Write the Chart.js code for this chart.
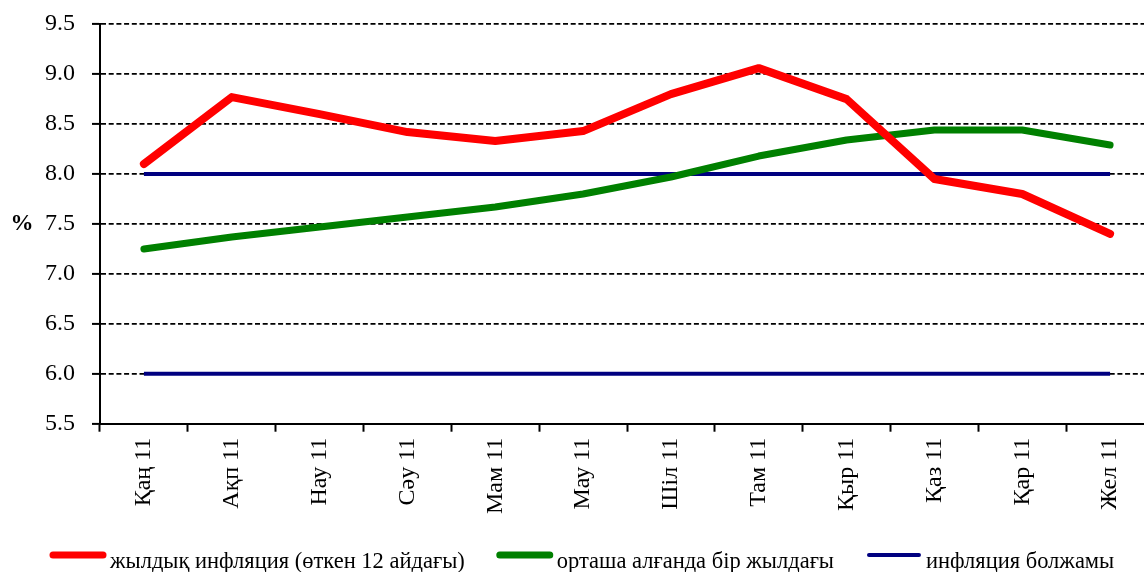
<!DOCTYPE html>
<html>
<head>
<meta charset="utf-8">
<script src="https://cdn.jsdelivr.net/npm/chart.js@4/dist/chart.umd.min.js"></script>
<style>
html,body{margin:0;padding:0;background:#fff;overflow:hidden;}
#wrap{width:1144px;height:572px;position:relative;overflow:hidden;}
</style>
</head>
<body>
<div id="wrap"><canvas id="c" width="1154" height="572"></canvas></div>
<script>
const categories = ["Қаң 11","Ақп 11","Нау 11","Сәу 11","Мам 11","Мау 11","Шіл 11","Там 11","Қыр 11","Қаз 11","Қар 11","Жел 11"];
const annualInflation = [8.1, 8.77, 8.6, 8.42, 8.33, 8.43, 8.8, 9.06, 8.75, 7.95, 7.8, 7.4];
const averageAnnual = [7.25, 7.37, 7.47, 7.57, 7.67, 7.8, 7.97, 8.18, 8.34, 8.44, 8.44, 8.29];
const forecastUpper = [8, 8, 8, 8, 8, 8, 8, 8, 8, 8, 8, 8];
const forecastLower = [6, 6, 6, 6, 6, 6, 6, 6, 6, 6, 6, 6];
const seriesNames = ["жылдық инфляция (өткен 12 айдағы)", "орташа алғанда бір жылдағы", "инфляция болжамы"];
const yTitle = "%";

const FONT = "'Liberation Serif', 'Times New Roman', serif";

const pctPlugin = {
  id: 'pct',
  afterDraw(chart) {
    const ctx = chart.ctx;
    const a = chart.chartArea;
    ctx.save();
    ctx.font = "bold 23px " + FONT;
    ctx.fillStyle = "#000";
    ctx.textAlign = "center";
    ctx.textBaseline = "middle";
    ctx.fillText(yTitle, 22, (a.top + a.bottom) / 2);
    ctx.restore();
  }
};

const legendPlugin = {
  id: 'customLegend',
  afterDraw(chart) {
    const ctx = chart.ctx;
    ctx.save();
    ctx.font = "22.5px " + FONT;
    ctx.textBaseline = "alphabetic";
    ctx.textAlign = "left";
    let x = 50;
    const boxW = 56, lineY = 555, textY = 568;
    chart.data.datasets.forEach((ds) => {
      if (ds.label === '_lower') return;
      ctx.strokeStyle = ds.borderColor;
      ctx.lineWidth = ds.borderWidth >= 6 ? 7 : 4;
      ctx.lineCap = 'round';
      ctx.beginPath();
      ctx.moveTo(x + 3, lineY);
      ctx.lineTo(x + boxW - 3, lineY);
      ctx.stroke();
      ctx.fillStyle = '#000';
      ctx.fillText(ds.label, x + boxW + 4, textY);
      x += boxW + 4 + ctx.measureText(ds.label).width + 32;
    });
    ctx.restore();
  }
};

new Chart(document.getElementById('c'), {
  type: 'line',
  data: {
    labels: categories,
    datasets: [
      { label: seriesNames[0], data: annualInflation, borderColor: '#ff0000', backgroundColor: '#ff0000', borderWidth: 8, pointRadius: 0, borderCapStyle: 'round', borderJoinStyle: 'round', tension: 0 },
      { label: seriesNames[1], data: averageAnnual, borderColor: '#008000', backgroundColor: '#008000', borderWidth: 7, pointRadius: 0, borderCapStyle: 'round', borderJoinStyle: 'round', tension: 0 },
      { label: seriesNames[2], data: forecastUpper, borderColor: '#000080', backgroundColor: '#000080', borderWidth: 4, pointRadius: 0, tension: 0 },
      { label: '_lower', data: forecastLower, borderColor: '#000080', backgroundColor: '#000080', borderWidth: 4, pointRadius: 0, tension: 0 }
    ]
  },
  options: {
    responsive: false,
    animation: false,
    layout: { padding: { left: 28, right: 0, top: 0, bottom: 52 } },
    plugins: {
      legend: { display: false },
      tooltip: { enabled: false }
    },
    scales: {
      x: {
        offset: true,
        grid: { display: true, drawOnChartArea: false, drawTicks: true, offset: true, tickLength: 8, color: '#000', tickWidth: 2 },
        border: { display: true, color: '#000', width: 2 },
        ticks: { minRotation: 90, maxRotation: 90, autoSkip: false, color: '#000', padding: 6, font: { family: FONT, size: 24 } }
      },
      y: {
        min: 5.5, max: 9.5,
        grid: { color: '#000', lineWidth: 1.8, tickLength: 8, tickWidth: 2 },
        border: { display: true, color: '#000', width: 2, dash: [5, 2.7] },
        ticks: { stepSize: 0.5, color: '#000', padding: 17, font: { family: FONT, size: 24, lineHeight: 0.6 }, callback: (v) => Number(v).toFixed(1) }
      }
    }
  },
  plugins: [pctPlugin, legendPlugin]
});
</script>
</body>
</html>
